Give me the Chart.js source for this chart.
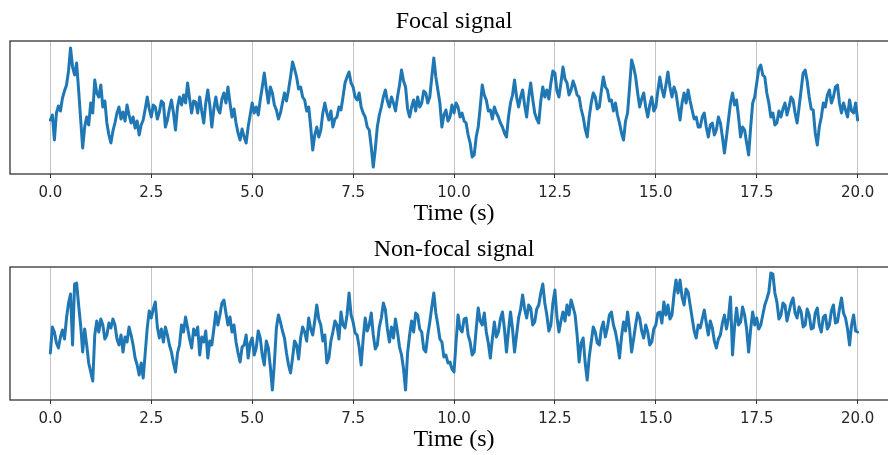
<!DOCTYPE html>
<html>
<head>
<meta charset="utf-8">
<script src="https://cdn.jsdelivr.net/npm/chart.js@4/dist/chart.umd.min.js"></script>
<style>
  html, body { margin: 0; padding: 0; background: #fff; overflow: hidden; }
  .panel { position: absolute; left: 0; }
</style>
</head>
<body>
<canvas id="focal" class="panel" style="top:0px"></canvas>
<canvas id="nonfocal" class="panel" style="top:226px"></canvas>
<script>
// EEG traces, 20 s, one value every 0.05 s (arbitrary amplitude units)
const sampleStep = 0.05;

const focalSignal = [
  -13, -8, -33, -6, 1, -4, 9, 16, 22, 36,      // 0.0 s
  59, 40, 32, 44, 17, -12, -41, -20, -10, -18,
  4, -6, 27, 14, 10, 22, 0, 6, -16, -28,       // 1.0 s
  -36, -24, -16, -6, 0, -12, -5, -14, 2, -8,
  -16, -10, -21, -14, -28, -18, -13, -2, 10, -2, // 2.0 s
  -10, 2, 0, -12, -5, 6, 4, -20, -13, -2,
  7, -6, -23, 0, 10, 2, 12, 4, 24, 8,          // 3.0 s
  -6, 6, 5, -6, 10, -4, -16, 4, 17, 2,
  -20, -2, 10, -2, -6, 8, 14, 4, 20, 4,        // 4.0 s
  -10, -2, -16, -26, -33, -22, -30, -36, -20, -8,
  4, -6, 0, -8, 7, 20, 34, 18, 4, 20,          // 5.0 s
  14, 2, -3, -12, -6, 4, 14, 6, 17, 30,
  45, 38, 30, 18, 20, 10, 7, -4, 0, -20,       // 6.0 s
  -43, -28, -20, -30, -23, -6, 4, -6, -13, -4,
  -20, -12, -10, 0, -3, 10, 24, 30, 35, 24,    // 7.0 s
  20, 10, 7, 14, 0, -6, -10, -20, -23, -40,
  -60, -42, -20, -8, 0, 10, 17, 6, 0, 10,      // 8.0 s
  4, -4, 10, 22, 37, 26, 20, -2, -10, 0,
  7, -4, 10, 0, 4, 16, 14, 4, 10, 30,          // 9.0 s
  49, 30, 17, 4, -20, -8, -3, -14, -10, 2,
  -6, 4, 0, -10, -6, -14, -16, -28, -36, -50,  // 10.0 s
  -48, -30, -20, 0, 22, 12, 7, -4, -3, -12,
  0, -6, -10, -16, -20, -26, -30, -10, 4, 12,  // 11.0 s
  27, 10, 0, 10, 17, 2, -10, 10, 24, 8,
  -6, -12, -16, 6, 20, 10, 17, 8, 24, 36,      // 12.0 s
  34, 16, 10, 24, 40, 28, 24, 12, 17, 26,
  20, 12, 10, -2, -10, -22, -30, -10, 4, 14,   // 13.0 s
  10, -2, 0, 16, 30, 20, 17, 6, 7, -4,
  4, -8, -16, -26, -33, -14, -6, 20, 47, 40,   // 14.0 s
  30, 14, 0, 8, 14, 0, -10, 2, 10, -4,
  0, 16, 30, 18, 10, 22, 35, 20, 10, 20,       // 15.0 s
  14, 0, -13, 4, 14, 4, 17, 6, -3, -12,
  -10, -20, -20, -10, -6, -20, -30, -18, -16, -28, // 16.0 s
  -23, -10, -16, -30, -46, -30, -13, 4, 14, 2,
  7, -10, -30, -20, -23, -36, -48, -20, 4, 10, // 17.0 s
  24, 38, 42, 32, 30, 14, 4, -10, -6, -18,
  -16, -4, -10, -2, 4, -8, 0, 10, 7, -6,       // 18.0 s
  -16, 0, 17, 34, 37, 26, 10, -2, -3, -26,
  -38, -20, -10, 4, 0, 12, 17, 4, 10, 20,      // 19.0 s
  22, 4, -6, 4, -3, -10, 7, -4, -6, 4,
  -13
];

const nonFocalSignal = [
  -20, 6, 1, -10, -15, -4, 3, -6, 15, 30,      // 0.0 s
  39, -12, 49, 50, 28, 8, -19, 4, -12, -30,
  -39, -48, -2, 12, 1, 14, 8, -6, -2, 10,      // 1.0 s
  5, 14, 8, -6, -12, -2, -19, -4, -9, 6,
  -2, -12, -25, -32, -42, -30, -45, -20, 5, 22, // 2.0 s
  15, 24, 31, 6, -5, 4, -9, 6, -2, -12,
  -19, -30, -39, -20, -12, 8, 1, 16, 5, -6,    // 3.0 s
  -15, 4, -2, 6, -22, -4, -9, 2, -25, -8,
  -12, 4, 21, 8, 18, 30, 33, 20, 8, 16,        // 4.0 s
  1, 8, -9, -20, -29, -14, -12, -2, -25, -10,
  -5, -22, -15, 2, -5, -22, -32, -8, -15, -34, // 5.0 s
  -57, -30, 5, 18, 11, 2, -5, -20, -32, -40,
  -25, -8, -12, -26, -5, 6, 1, -8, 15, 4,      // 6.0 s
  -2, 12, 28, 14, 8, -8, -2, -30, -25, -8,
  1, 12, 8, -6, 21, 8, 5, 18, 40, 18,          // 7.0 s
  11, 0, -2, -14, -32, -6, 15, 2, 8, 20,
  -2, -16, -12, 6, 15, 30, 23, 4, -9, 6,       // 8.0 s
  -5, 14, 1, -14, -22, -36, -57, -20, -2, 12,
  1, 20, 18, 4, 1, -16, -19, -2, 11, 26,       // 9.0 s
  40, 20, 8, -6, -9, -24, -22, -30, -29, -36,
  -39, -10, 18, 4, 1, 14, 15, -2, -9, -22,     // 10.0 s
  -19, 4, 25, 12, 8, 20, 1, -10, -25, -6,
  11, -4, 1, 14, 21, 4, -19, 2, 21, 4,         // 11.0 s
  -19, -2, 15, 24, 38, 24, 15, 28, 25, 8,
  11, 24, 28, 40, 49, 30, 18, 2, 8, 30,        // 12.0 s
  43, 16, 1, 12, 21, 12, 28, 18, 33, 26,
  18, -2, -29, -10, -5, -30, -47, -24, -9, 6,  // 13.0 s
  1, -10, -12, 4, 11, -4, 5, 18, 21, 8,
  1, -10, -25, -4, 11, 2, 21, 4, -19, -6,      // 14.0 s
  8, 20, 15, 2, -5, 8, 1, -12, -9, 4,
  8, 20, 21, 10, 31, 18, 28, 14, 18, 38,       // 15.0 s
  53, 40, 53, 36, 28, 44, 41, 28, 15, 2,
  -5, 8, 5, 14, 23, 10, -2, 12, 5, -8,         // 16.0 s
  -15, -6, -2, 10, 18, 4, 15, 36, -22, 6,
  25, 8, 11, 26, 18, 4, -19, 4, 21, 8,         // 17.0 s
  15, 4, 8, 18, 28, 34, 41, 60, 59, 40,
  31, 14, 18, 30, 28, 12, 21, 30, 35, 20,      // 18.0 s
  15, 26, 21, 6, 8, 24, 18, 4, 5, 20,
  25, 8, 1, 16, 18, 4, 8, 22, 28, 10,          // 19.0 s
  11, 24, 35, 20, 15, 4, -12, 8, 18, 2,
  1
];

const xTickValues = [0, 2.5, 5, 7.5, 10, 12.5, 15, 17.5, 20];
const xTickLabels = ['0.0', '2.5', '5.0', '7.5', '10.0', '12.5', '15.0', '17.5', '20.0'];
const panelTitles = ['Focal signal', 'Non-focal signal'];
const axisLabel = 'Time (s)';

const CANVAS_W = 910, CANVAS_H = 228;
const PLOT_LEFT = 10, PLOT_RIGHT = 898, PLOT_TOP = 41, PLOT_BOTTOM = 174;

// titles above each panel and the x-axis label below
const panelText = {
  id: 'panelText',
  afterDraw(chart, args, opts) {
    const { ctx, chartArea } = chart;
    const cx = (chartArea.left + chartArea.right) / 2;
    ctx.save();
    ctx.fillStyle = '#000';
    ctx.font = '24px "Liberation Serif", "Times New Roman", serif';
    ctx.textAlign = 'center';
    ctx.textBaseline = 'middle';
    ctx.fillText(opts.title, cx, opts.titleY);
    ctx.fillText(opts.xlabel, cx, opts.xlabelY);
    ctx.restore();
  }
};

// box around the plotting area
const frame = {
  id: 'frame',
  afterDatasetsDraw(chart) {
    const { ctx, chartArea: a } = chart;
    ctx.save();
    ctx.strokeStyle = '#333';
    ctx.lineWidth = 1.3;
    ctx.strokeRect(a.left, a.top, a.right - a.left, a.bottom - a.top);
    ctx.restore();
  }
};

function makePanel(id, values, title, titleY) {
  const canvas = document.getElementById(id);
  canvas.width = CANVAS_W; canvas.height = CANVAS_H;
  canvas.style.width = CANVAS_W + 'px'; canvas.style.height = CANVAS_H + 'px';
  const points = values.map((v, i) => ({ x: +(i * sampleStep).toFixed(2), y: v }));
  return new Chart(canvas, {
    type: 'line',
    data: {
      datasets: [{
        data: points,
        borderColor: '#1f77b4',
        borderWidth: 3,
        pointRadius: 0,
        tension: 0,
        borderJoinStyle: 'round',
        borderCapStyle: 'round',
        fill: false
      }]
    },
    options: {
      responsive: false,
      animation: false,
      events: [],
      layout: { padding: { left: PLOT_LEFT, right: CANVAS_W - PLOT_RIGHT, top: PLOT_TOP, bottom: 0 } },
      plugins: {
        legend: { display: false },
        title: { display: false },
        tooltip: { enabled: false },
        panelText: { title, titleY, xlabel: axisLabel, xlabelY: 214 }
      },
      scales: {
        x: {
          type: 'linear',
          min: -1, max: 21,
          afterBuildTicks(scale) { scale.ticks = xTickValues.map(v => ({ value: v })); },
          afterFit(scale) { scale.height = CANVAS_H - PLOT_BOTTOM; },
          border: { display: false },
          grid: { color: '#c4c4c4', lineWidth: 1, tickColor: '#333', tickLength: 4, drawOnChartArea: true },
          ticks: {
            color: '#262626',
            padding: 6,
            maxRotation: 0,
            autoSkip: false,
            font: { family: '"DejaVu Sans"', size: 15 },
            callback(v) { const k = xTickValues.indexOf(v); return k >= 0 ? xTickLabels[k] : ''; }
          }
        },
        y: { display: false, min: -67, max: 66 }
      }
    },
    plugins: [panelText, frame]
  });
}

makePanel('focal', focalSignal, panelTitles[0], 22);
makePanel('nonfocal', nonFocalSignal, panelTitles[1], 24);
</script>
</body>
</html>
